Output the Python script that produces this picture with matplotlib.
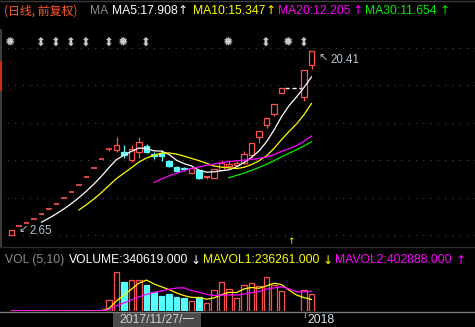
import numpy as np
import pandas as pd
import matplotlib
matplotlib.use("Agg")
import matplotlib.pyplot as plt
from matplotlib.transforms import blended_transform_factory

nan = np.nan
# ---------------- data (daily, 前复权) ----------------
opens = [2.65, 3.50, 3.85, 4.24, 4.66, 5.13, 5.64, 6.20, 6.82, 7.51, 8.26, 9.08, 9.99, 10.99,
         10.85, 10.64, 9.85, 10.66, 11.24, 10.45, 10.53, 9.82, 9.18, 9.10, 8.67, 8.90, 8.22, 8.20,
         8.95, 9.30, 9.40, 9.57, 10.35, 12.14, 13.27, 14.30, 16.33, nan, nan, 16.00, 19.06]
highs = [3.18, 3.50, 3.85, 4.24, 4.66, 5.13, 5.64, 6.20, 6.82, 7.51, 8.26, 9.08, 9.99, 10.99,
         12.09, 11.34, 11.34, 12.08, 11.43, 10.69, 10.85, 9.90, 9.35, 9.25, 9.20, 8.95, 8.38, 9.06,
         9.90, 9.90, 9.82, 10.75, 11.52, 12.67, 13.94, 15.33, 16.86, nan, nan, 18.55, 20.41]
lows = [2.65, 3.50, 3.85, 4.24, 4.66, 5.13, 5.64, 6.20, 6.82, 7.51, 8.26, 9.08, 9.99, 10.75,
        10.66, 10.08, 9.71, 10.13, 10.53, 9.95, 9.79, 9.20, 8.75, 8.80, 8.60, 8.05, 8.05, 8.15,
        8.90, 9.20, 9.30, 9.50, 10.20, 11.56, 13.00, 14.14, 16.33, nan, nan, 15.61, 18.64]
closes = [3.18, 3.50, 3.85, 4.24, 4.66, 5.13, 5.64, 6.20, 6.82, 7.51, 8.26, 9.08, 9.99, 10.99,
          11.34, 10.37, 10.92, 11.62, 10.69, 10.25, 10.27, 9.28, 8.86, 9.05, 9.13, 8.20, 8.35, 9.01,
          9.60, 9.55, 9.60, 10.47, 11.52, 12.67, 13.94, 15.33, 16.86, nan, nan, 18.55, 20.41]
volumes = [9000, 2100, 1300, 1500, 1800, 2200, 2600, 3100, 3900, 4800, 6300, 9800, 15800, 219000,
           793000, 588000, 629000, 629000, 533000, 390000, 301000, 342000, 287000, 260000, 205000,
           287000, 164000, 424000, 588000, 451000, 260000, 540000, 570000, 505000, 700000, 532575,
           405000, 0, 0, 435686, 340619]
marker_idx = [0, 4, 6, 8, 10, 13, 15, 18, 29, 34, 37, 39]
marker_kind = ["star", "arrow", "arrow", "arrow", "arrow", "arrow", "star", "arrow",
               "star", "arrow", "star", "arrow"]
ma_periods = [5, 10, 20, 30]
ma_colors = ["#FFFFFF", "#FFFF00", "#FF00FF", "#00F000"]
vol_ma_periods = [5, 10]
vol_ma_colors = ["#FFFF00", "#FF00FF"]
date_label = "2017/11/27/一"
year_label = "2018"

RED = "#FF5050"
CYAN = "#54FFFF"
BG = "#000000"
GRID = "#4A4A4A"

W, H = 475, 327
fig = plt.figure(figsize=(W / 100, H / 100), dpi=100, facecolor=BG)

def pax(x0, y0, x1, y1):
    return fig.add_axes([x0 / W, 1 - y1 / H, (x1 - x0) / W, (y1 - y0) / H])

n = len(closes)
idx = np.arange(n)
o = np.array(opens); h = np.array(highs); l = np.array(lows); c = np.array(closes)
v = np.array(volumes, dtype=float)
XL = (-11.5 / 7.5, (W - 11.5) / 7.5)
bw = 0.67

# ---------------- main price panel ----------------
ax = pax(0, 30, W, 246)
ax.set_facecolor(BG)
ax.set_xlim(*XL)
ax.set_ylim(2.65 + (235 - 246) / 10.36, 2.65 + (235 - 30) / 10.36)
ax.axis("off")

# dotted grid
for gy in [48, 85, 123, 160, 198, 235]:
    ax.axhline(2.65 + (235 - gy) / 10.36, color=GRID, lw=0.75, dashes=(1, 6), zorder=0)

# candles
for i in idx:
    if np.isnan(c[i]):
        continue
    up = c[i] >= o[i]
    col = RED if up else CYAN
    top, bot = max(o[i], c[i]), min(o[i], c[i])
    if h[i] > top:
        ax.vlines(i, top, h[i], color=col, lw=0.9, zorder=3)
    if l[i] < bot:
        ax.vlines(i, l[i], bot, color=col, lw=0.9, zorder=3)
    if top - bot < 0.02:
        ax.hlines(c[i], i - bw / 2, i + bw / 2, color=col, lw=1.2, zorder=3)
    elif up:
        ax.bar(i, top - bot, bottom=bot, width=bw, facecolor=BG, edgecolor=col, lw=0.9, zorder=3)
    else:
        ax.bar(i, top - bot, bottom=bot, width=bw, facecolor=col, edgecolor=col, lw=0.9, zorder=3)

# suspended days: dashed line at previous close
cf = pd.Series(c).ffill()
susp = np.where(np.isnan(c))[0]
if len(susp):
    ax.hlines(cf[susp[0]], susp[0] - 0.6, susp[-1] + 0.6, color="#FFFFFF", lw=1.0,
              linestyles=(0, (3, 2)), zorder=3)

# moving averages
for p, col in zip(ma_periods, ma_colors):
    ma = cf.rolling(p).mean()
    ax.plot(idx, ma, color=col, lw=0.9, zorder=4)

# high / low labels
imax = int(np.nanargmax(h)); imin = int(np.nanargmin(l))
lab = "#B4C3D2"
ax.annotate("↖", xy=(imax, h[imax]), xytext=(7, -8), textcoords="offset pixels",
            color=lab, fontsize=8, family="DejaVu Sans", ha="left", va="center")
ax.annotate(f"{h[imax]:.2f}", xy=(imax, h[imax]), xytext=(19, -9), textcoords="offset pixels",
            color=lab, fontsize=8.3, family=["Liberation Sans", "DejaVu Sans"], ha="left", va="center")
ax.annotate("↙", xy=(imin, l[imin]), xytext=(7, 6), textcoords="offset pixels",
            color=lab, fontsize=8, family="DejaVu Sans", ha="left", va="center")
ax.annotate(f"{l[imin]:.2f}", xy=(imin, l[imin]), xytext=(18, 4), textcoords="offset pixels",
            color=lab, fontsize=8.3, family=["Liberation Sans", "DejaVu Sans"], ha="left", va="center")

# info markers
tr = blended_transform_factory(ax.transData, ax.transAxes)
for mi, mk in zip(marker_idx, marker_kind):
    g = "✹" if mk == "star" else "⬍"
    ax.text(mi - 0.2, (246 - 42) / 216, g, transform=tr, color="#C8C8C8",
            fontsize=9 if mk == "star" else 8.5,
            family="DejaVu Sans", ha="center", va="center")

# yellow arrow at suspension
if len(susp):
    ax.text(susp[0] + 0.2, (246 - 241) / 216, "↑", transform=tr, color="#FFFF00", fontsize=6.5,
            family="DejaVu Sans", ha="center", va="center")

# ---------------- volume panel ----------------
vx = pax(0, 268, W, 311)
vx.set_facecolor(BG)
vx.set_xlim(*XL)
vx.set_ylim(0, 43 * 20500)
vx.axis("off")
for i in idx:
    if v[i] <= 0 or np.isnan(c[i]):
        continue
    up = c[i] >= o[i]
    if up:
        vx.bar(i, v[i], width=bw, facecolor=BG, edgecolor=RED, lw=0.9, zorder=2)
    else:
        vx.bar(i, v[i], width=bw, facecolor=CYAN, edgecolor=CYAN, lw=0.9, zorder=2)
vs = pd.Series(v)
for p, col in zip(vol_ma_periods, vol_ma_colors):
    vx.plot(idx, vs.rolling(p, min_periods=1).mean(), color=col, lw=0.9, zorder=3)

# ---------------- overlay (header texts, axis, frame) ----------------
ov = fig.add_axes([0, 0, 1, 1], zorder=10)
ov.set_xlim(0, W); ov.set_ylim(H, 0); ov.axis("off"); ov.patch.set_alpha(0)
FAM = ["Liberation Sans", "Noto Sans CJK SC", "DejaVu Sans"]
AR = ["DejaVu Sans"]
fs = 8.7

ov.plot([0, W], [1, 1], color="#3A3A3A", lw=1)
ov.text(4, 11, "(日线, 前复权)", color="#FF5A28", fontsize=8.6,
        family=["Noto Sans CJK SC", "DejaVu Sans"], ha="left", va="center")
ov.text(90, 11, "MA", color="#8C8C8C", fontsize=fs, family=FAM, ha="left", va="center")
hx = [112, 193, 278, 365]
ax_arrow = [183, 271, 358, 445]
for p, col, x0, xa in zip(ma_periods, ma_colors, hx, ax_arrow):
    ma = cf.rolling(p).mean()
    ov.text(x0, 11, f"MA{p}:{ma.iloc[-1]:.3f}", color=col, fontsize=fs, family=FAM,
            ha="left", va="center")
    arrow = "↑" if ma.iloc[-1] >= ma.iloc[-2] else "↓"
    ov.text(xa, 11, arrow, color=col, fontsize=fs, family=AR, ha="center", va="center")

# separator between panels
ov.plot([0, W], [246.5, 246.5], color="#2A2A2A", lw=1)
ov.text(5, 260, "VOL (5,10)", color="#8C8C8C", fontsize=fs, family=FAM, ha="left", va="center")
ov.text(69, 260, f"VOLUME:{v[-1]:.3f}", color="#FFFFFF", fontsize=fs, family=FAM,
        ha="left", va="center")
ov.text(196, 260, "↓" if v[-1] < v[-2] else "↑", color="#FFFFFF", fontsize=fs, family=AR,
        ha="center", va="center")
vxs = [203, 335]
vas = [328, 461]
for k, (p, col, x0, xa) in enumerate(zip(vol_ma_periods, vol_ma_colors, vxs, vas)):
    m = vs.rolling(p, min_periods=1).mean()
    ov.text(x0, 260, f"MAVOL{k + 1}:{m.iloc[-1]:.3f}", color=col,
            fontsize=fs, family=FAM, ha="left", va="center")
    ov.text(xa, 260, "↑" if m.iloc[-1] >= m.iloc[-2] else "↓", color=col, fontsize=fs,
            family=AR, ha="center", va="center")

# left scroll strip
ov.plot([1, 1], [30, 246], color="#3C3C3C", lw=1.5)
ov.plot([1, 1], [62, 90], color="#D03010", lw=1.5)

# bottom axis
ov.plot([0, W], [311.5, 311.5], color="#7A7A7A", lw=1)
ov.plot([305, 305], [311.5, 317], color="#7A7A7A", lw=1)
ov.add_patch(plt.Rectangle((113, 312), 88, 15, facecolor="#4A4A4A", edgecolor="none"))
ov.text(157, 320, date_label, color="#D0D0D0", fontsize=fs,
        family=["Liberation Sans", "Noto Sans CJK SC"], ha="center", va="center")
ov.text(307, 320, year_label, color="#DCE6F0", fontsize=fs, family=FAM, ha="left", va="center")

fig.savefig("out.png", dpi=100, facecolor=BG)
